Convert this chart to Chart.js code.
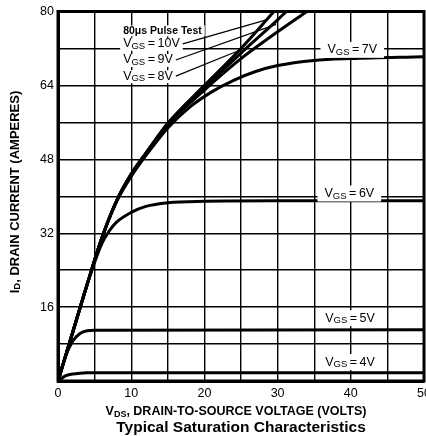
<!DOCTYPE html>
<html>
<head>
<meta charset="utf-8">
<script src="https://cdn.jsdelivr.net/npm/chart.js@4/dist/chart.umd.min.js"></script>
<style>
  html, body { margin: 0; padding: 0; background: #fff; }
</style>
</head>
<body>
<canvas id="chart" width="426" height="436"></canvas>
<script>
// drain current curves (VDS in volts, ID in amperes)
const vds10V = [0, 2, 4, 6, 8, 10, 12, 15, 20, 25, 29.5];
const id10V  = [0, 10.5, 21, 31, 39, 44.8, 49.3, 55.8, 64, 72, 80];
const vds9V  = [0, 2, 4, 6, 8, 10, 12, 15, 20, 25, 30, 31.2];
const id9V   = [0, 10.5, 21, 31, 39, 44.8, 49.3, 55.7, 63.5, 71, 78.2, 80];
const vds8V  = [0, 2, 4, 6, 8, 10, 12, 15, 20, 25, 30, 34];
const id8V   = [0, 10.5, 21, 31, 39, 44.8, 49.3, 55.5, 63, 69.8, 75.6, 80];
const vds7V  = [0, 2, 4, 6, 8, 10, 12, 15, 18, 21, 24, 27, 30, 35, 40, 50];
const id7V   = [0, 10.5, 21, 31, 38.8, 44.3, 48.8, 54.8, 59.3, 62.6, 65.1, 67, 68.3, 69.4, 69.8, 70.2];
const vds6V  = [0, 2, 4, 6, 7, 8, 10, 12, 15, 20, 30, 50];
const id6V   = [0, 10.5, 21, 29.8, 32.5, 34.4, 36.5, 37.8, 38.6, 38.9, 39, 39];
const vds5V  = [0, 1, 2, 3, 4, 5, 50];
const id5V   = [0, 5.2, 8.6, 10.3, 10.9, 11, 11.1];
const vds4V  = [0, 1, 2, 3, 4, 6, 50];
const id4V   = [0, 1.1, 1.5, 1.7, 1.8, 1.8, 1.8];

const xTicks = [0, 10, 20, 30, 40, 50];
const yTicks = [16, 32, 48, 64, 80];

// curve labels, placed in data units
const curveLabels = [
  { gate: '7V', x: 40.2, y: 71.7 },
  { gate: '6V', x: 39.8, y: 40.6 },
  { gate: '5V', x: 39.9, y: 13.6 },
  { gate: '4V', x: 39.9, y: 4.1 }
];
const leaderLabels = [
  { gate: '10V', x: 8.9, y: 73, to: [28.7, 78.3] },
  { gate: '9V', x: 8.9, y: 69.5, to: [29.8, 77.2] },
  { gate: '8V', x: 8.9, y: 66, to: [24.3, 71.3] }
];

const FONT = '"Liberation Sans", Arial, sans-serif';

function pts(xs, ys) {
  return xs.map((x, i) => ({ x: x, y: ys[i] }));
}

function curve(xs, ys) {
  return {
    data: pts(xs, ys),
    borderColor: '#000',
    borderWidth: 3,
    pointRadius: 0,
    fill: false,
    cubicInterpolationMode: 'monotone'
  };
}

// text pieces with subscripts
function richWidth(ctx, parts) {
  let w = 0;
  parts.forEach(p => {
    ctx.font = (p.bold ? 'bold ' : '') + p.size + 'px ' + FONT;
    w += ctx.measureText(p.t).width;
  });
  return w;
}
function drawRich(ctx, parts, x, y, align) {
  const w = richWidth(ctx, parts);
  let cx = align === 'center' ? x - w / 2 : (align === 'right' ? x - w : x);
  ctx.textAlign = 'left';
  ctx.textBaseline = 'middle';
  parts.forEach(p => {
    ctx.font = (p.bold ? 'bold ' : '') + p.size + 'px ' + FONT;
    ctx.fillText(p.t, cx, y + (p.dy || 0));
    cx += ctx.measureText(p.t).width;
  });
  return w;
}
function vgsParts(gate) {
  return [
    { t: 'V', size: 12.5 },
    { t: 'GS', size: 9.5, dy: 2.5 },
    { t: '\u2009=\u2009' + gate, size: 12.5 }
  ];
}

const annotate = {
  id: 'annotate',
  afterDatasetsDraw(chart) {
    const ctx = chart.ctx;
    const xs = chart.scales.x, ys = chart.scales.y;
    const a = chart.chartArea;
    ctx.save();

    // frame
    ctx.lineWidth = 3;
    ctx.strokeStyle = '#000';
    ctx.strokeRect(a.left, a.top, a.right - a.left, a.bottom - a.top);

    // right-hand curve labels on white boxes
    curveLabels.forEach(l => {
      const px = xs.getPixelForValue(l.x), py = ys.getPixelForValue(l.y);
      const parts = vgsParts(l.gate);
      const w = richWidth(ctx, parts);
      ctx.fillStyle = '#fff';
      ctx.fillRect(px - w / 2 - 7, py - 8, w + 14, 16);
      ctx.fillStyle = '#000';
      drawRich(ctx, parts, px, py, 'center');
    });

    // leader labels, then the pulse test note above them
    leaderLabels.forEach(l => {
      const px = xs.getPixelForValue(l.x), py = ys.getPixelForValue(l.y);
      const parts = vgsParts(l.gate);
      const w = richWidth(ctx, parts);
      ctx.fillStyle = '#fff';
      ctx.fillRect(px - 3, py - 6, w + 6, 13);
      ctx.fillStyle = '#000';
      drawRich(ctx, parts, px, py, 'left');
      ctx.beginPath();
      ctx.lineWidth = 1.2;
      ctx.moveTo(px + w + 3, py);
      ctx.lineTo(xs.getPixelForValue(l.to[0]), ys.getPixelForValue(l.to[1]));
      ctx.stroke();
    });

    const lx = xs.getPixelForValue(8.9);
    const ny = ys.getPixelForValue(75.7);
    ctx.font = 'bold 10.5px ' + FONT;
    const nw = ctx.measureText('80\u03bcs Pulse Test').width;
    ctx.fillStyle = '#fff';
    ctx.fillRect(lx - 3, ny - 6, nw + 6, 11);
    ctx.fillStyle = '#000';
    drawRich(ctx, [{ t: '80\u03bcs Pulse Test', size: 10.5, bold: true }], lx, ny, 'left');

    // axis titles
    drawRich(ctx, [
      { t: 'V', size: 12.5, bold: true },
      { t: 'DS', size: 9, bold: true, dy: 2.5 },
      { t: ', DRAIN-TO-SOURCE VOLTAGE (VOLTS)', size: 12.5, bold: true }
    ], 236, 412, 'center');
    drawRich(ctx, [{ t: 'Typical Saturation Characteristics', size: 15.5, bold: true }], 241, 428, 'center');

    ctx.translate(15, 192);
    ctx.rotate(-Math.PI / 2);
    drawRich(ctx, [
      { t: 'I', size: 13, bold: true },
      { t: 'D', size: 9.5, bold: true, dy: 2.5 },
      { t: ', DRAIN CURRENT (AMPERES)', size: 13, bold: true }
    ], 0, 0, 'center');
    ctx.restore();
  }
};

new Chart(document.getElementById('chart'), {
  type: 'line',
  data: {
    datasets: [
      curve(vds10V, id10V),
      curve(vds9V, id9V),
      curve(vds8V, id8V),
      curve(vds7V, id7V),
      curve(vds6V, id6V),
      curve(vds5V, id5V),
      curve(vds4V, id4V)
    ]
  },
  options: {
    responsive: false,
    animation: false,
    devicePixelRatio: 1,
    layout: { padding: { top: 11, right: 2, left: 0, bottom: 0 } },
    plugins: { legend: { display: false }, tooltip: { enabled: false } },
    scales: {
      x: {
        type: 'linear',
        min: 0,
        max: 50,
        afterFit: s => { s.height = 55; s.paddingLeft = 0; s.paddingRight = 0; },
        grid: { color: '#000', lineWidth: 1.4, drawTicks: false },
        border: { color: '#000', width: 3 },
        ticks: {
          stepSize: 5,
          padding: 5,
          color: '#000',
          font: { family: FONT, size: 12.5 },
          callback: v => xTicks.includes(v) ? String(v) : ''
        }
      },
      y: {
        min: 0,
        max: 80,
        afterFit: s => { s.width = 58; },
        grid: { color: '#000', lineWidth: 1.4, drawTicks: false },
        border: { color: '#000', width: 3 },
        ticks: {
          stepSize: 8,
          padding: 4,
          color: '#000',
          font: { family: FONT, size: 12.5 },
          callback: v => yTicks.includes(v) ? String(v) : ''
        }
      }
    }
  },
  plugins: [annotate]
});
</script>
</body>
</html>
